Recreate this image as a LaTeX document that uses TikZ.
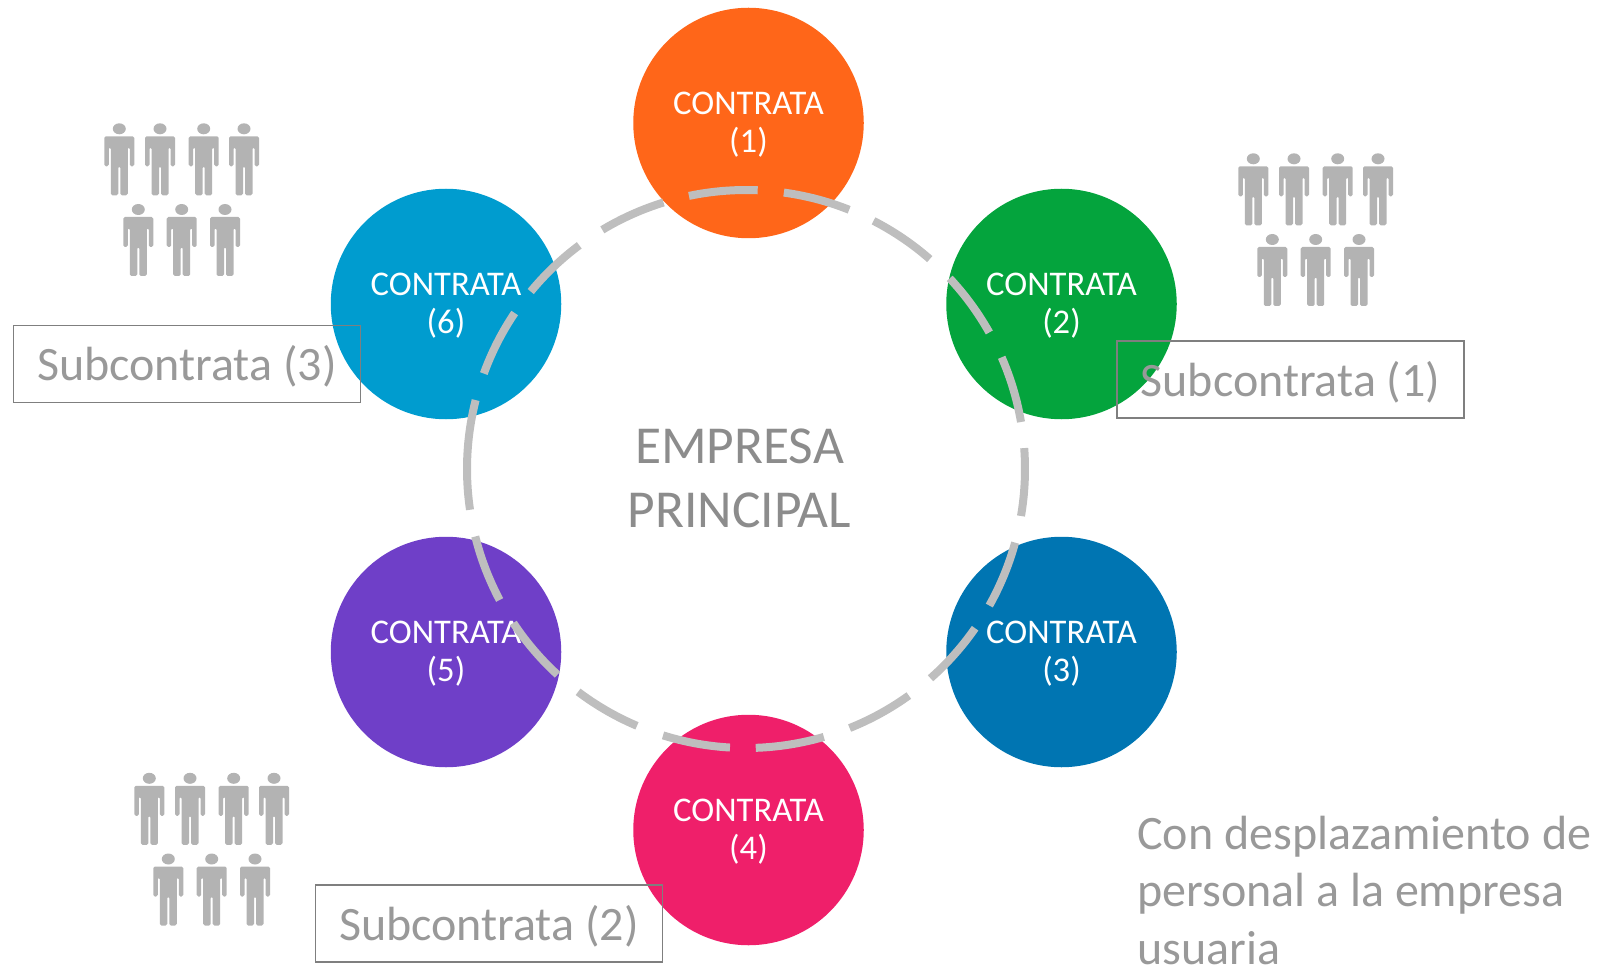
\documentclass[tikz,border=0pt]{standalone}
\usepackage{fontspec}
\setmainfont{Carlito}
\definecolor{cOne}{HTML}{FF6619}
\definecolor{cTwo}{HTML}{04A43D}
\definecolor{cThree}{HTML}{0075B2}
\definecolor{cFour}{HTML}{EF1F6A}
\definecolor{cFive}{HTML}{6F3FC8}
\definecolor{cSix}{HTML}{009CCF}
\definecolor{ringgray}{HTML}{BEBEBE}
\definecolor{textgray}{HTML}{8C8C8C}
\definecolor{softgray}{HTML}{999999}
\definecolor{boxgray}{HTML}{7F7F7F}
\definecolor{persongray}{HTML}{B3B3B3}
\tikzset{
  x=1pt,y=-1pt,
  clabel/.style={text=white,align=center,inner sep=0pt,yshift=-2pt,font=\fontsize{34.6}{38}\selectfont},
  contrata/.style={circle,draw=none,fill=#1,minimum size=230.5pt,inner sep=0pt},
  slabel/.style={text=softgray,inner sep=0pt,yshift=-2.5pt,font=\fontsize{48}{50}\selectfont},
  subbox/.style={draw=boxgray,line width=1.4pt,minimum width=347pt,minimum height=77pt,inner sep=0pt},
  person/.pic={
    \fill[persongray] (0,5.5) ellipse[x radius=6.5pt,y radius=5.5pt];
    \fill[persongray,rounded corners=1.6pt]
      (-15,13) -- (15,13) -- (15,43) -- (10.5,43) -- (10.5,24) -- (8.5,24) -- (8.5,72)
      -- (1,72) -- (1,43) -- (-1,43) -- (-1,72) -- (-8.5,72) -- (-8.5,24) -- (-10.5,24)
      -- (-10.5,43) -- (-15,43) -- cycle;
  },
  crowd/.pic={
    \foreach \px in {119.3,160,203.7,244} \pic at (\px,123.3) {person};
    \foreach \px in {138.3,181.7,225} \pic at (\px,204) {person};
  }
}
\begin{document}
\begin{tikzpicture}
\useasboundingbox (0,0) rectangle (1606,965);
\node[contrata=cOne,label={[clabel]center:CONTRATA\\(1)}]   (c1) at (748.5,123)   {};
\node[contrata=cTwo,label={[clabel]center:CONTRATA\\(2)}]   (c2) at (1061.5,304)  {};
\node[contrata=cThree,label={[clabel]center:CONTRATA\\(3)}] (c3) at (1061.5,652)  {};
\node[contrata=cFour,label={[clabel]center:CONTRATA\\(4)}]  (c4) at (748.5,830)   {};
\node[contrata=cFive,label={[clabel]center:CONTRATA\\(5)}]  (c5) at (446,652) {};
\node[contrata=cSix,label={[clabel]center:CONTRATA\\(6)}]   (c6) at (446,304) {};
\coordinate (ring) at (746,469);
\foreach \a/\b in {101.8/87.6,82.2/68.3,62.8/48.8,43.1/29.3,23.6/9.7,4.3/-9.7,-15.3/-29.3,-34.8/-48.6,
  -54.3/-68.2,-73.8/-88,-93.3/-107.3,-113/-127,-132.5/-146.5,-152/-166,-171.6/-194.3,-200/-214,-219.5/-233.3,-239/-252.8}
  \draw[ringgray,line width=8pt] (ring) ++(\a:279pt) arc[start angle=\a,end angle=\b,radius=279pt];
\node[text=textgray,align=center,font=\fontsize{53.4}{63.5}\selectfont] (main) at (739.5,478.5) {EMPRESA\\PRINCIPAL};
\pic at (0,0) {crowd};
\pic at (1134,30) {crowd};
\pic at (30,649.5) {crowd};
\node[subbox,label={[slabel]center:Subcontrata (3)}] (s3) at (187,364) {};
\node[subbox,label={[slabel]center:Subcontrata (1)}] (s1) at (1290.5,379.5) {};
\node[subbox,label={[slabel,yshift=-0.5pt]center:Subcontrata (2)}] (s2) at (489,923.5) {};
\node[text=softgray,align=left,anchor=north west,inner sep=0pt,font=\fontsize{48}{57.4}\selectfont] (note) at (1137,816)
  {Con desplazamiento de\\personal a la empresa\\usuaria};
\end{tikzpicture}
\end{document}
